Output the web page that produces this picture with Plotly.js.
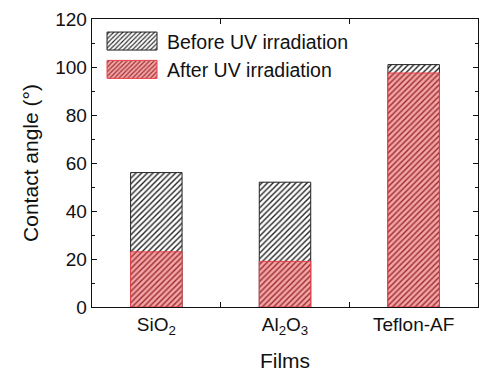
<!DOCTYPE html>
<html><head><meta charset="utf-8">
<script src="https://cdn.plot.ly/plotly-3.0.1.min.js"></script>
<style>html,body{margin:0;padding:0;background:#fff}#chart{width:500px;height:381px}</style>
</head><body><div id="chart"></div>
<script>
const films = ["SiO<sub>2</sub>", "Al<sub>2</sub>O<sub>3</sub>", "Teflon-AF"];
const beforeUV = [56, 52, 101];
const afterUV = [23, 19, 97.5];
const seriesNames = ["Before UV irradiation", "After UV irradiation"];

const font = "Liberation Sans, Arial, sans-serif";
const traces = [
  {type: "bar", x: films, y: beforeUV, name: seriesNames[0], width: 0.4,
   marker: {color: "#ffffff", line: {color: "#222222", width: 1},
            pattern: {shape: "/", fgcolor: "#222222", bgcolor: "#ffffff", size: 4, solidity: 0.35}}},
  {type: "bar", x: films, y: afterUV, name: seriesNames[1], width: 0.4,
   marker: {color: "#f09a9a", line: {color: "#e8404a", width: 1},
            pattern: {shape: "/", fgcolor: "#9a2a2a", bgcolor: "#f3a5a8", size: 4, solidity: 0.35}}}
];
const layout = {
  width: 500, height: 381,
  margin: {l: 92, r: 22, t: 19, b: 74},
  barmode: "overlay",
  showlegend: true,
  legend: {x: 0.013, y: 0.99, xanchor: "left", yanchor: "top", bgcolor: "rgba(0,0,0,0)",
           font: {family: font, size: 19.5, color: "#111"}, traceorder: "normal", itemwidth: 60},
  font: {family: font, color: "#111"},
  xaxis: {type: "category", range: [-0.5, 2.5], showline: true, linecolor: "#111", linewidth: 1.3,
          mirror: "ticks", ticks: "inside", ticklen: 5, tickcolor: "#111", tickson: "boundaries",
          tickfont: {family: font, size: 19, color: "#111"},
          title: {text: "Films", font: {family: font, size: 21, color: "#111"}, standoff: 16}},
  xaxis2: {overlaying: "x", anchor: "y", side: "bottom", range: [-0.5, 2.5], tickvals: [0, 1, 2],
           showticklabels: false, ticks: "inside", ticklen: 4, tickcolor: "#111", mirror: "ticks",
           showline: false, showgrid: false, zeroline: false},
  yaxis: {range: [0, 120], dtick: 20, showline: true, linecolor: "#111", linewidth: 1.3,
          mirror: "ticks", ticks: "inside", ticklen: 5, tickcolor: "#111", showgrid: false, zeroline: false,
          minor: {dtick: 10, ticks: "inside", ticklen: 3, tickcolor: "#111", showgrid: false},
          tickfont: {family: font, size: 19, color: "#111"},
          title: {text: "Contact angle (°)", font: {family: font, size: 21, color: "#111"}, standoff: 10}},
  plot_bgcolor: "#fff", paper_bgcolor: "#fff"
};
Plotly.newPlot("chart", traces, layout, {displayModeBar: false, staticPlot: true}).then(function () {
  document.querySelectorAll(".legend .legendpoints path").forEach(function (p) {
    p.setAttribute("d", "M25,9H-25V-9H25Z");
  });
});
</script></body></html>
